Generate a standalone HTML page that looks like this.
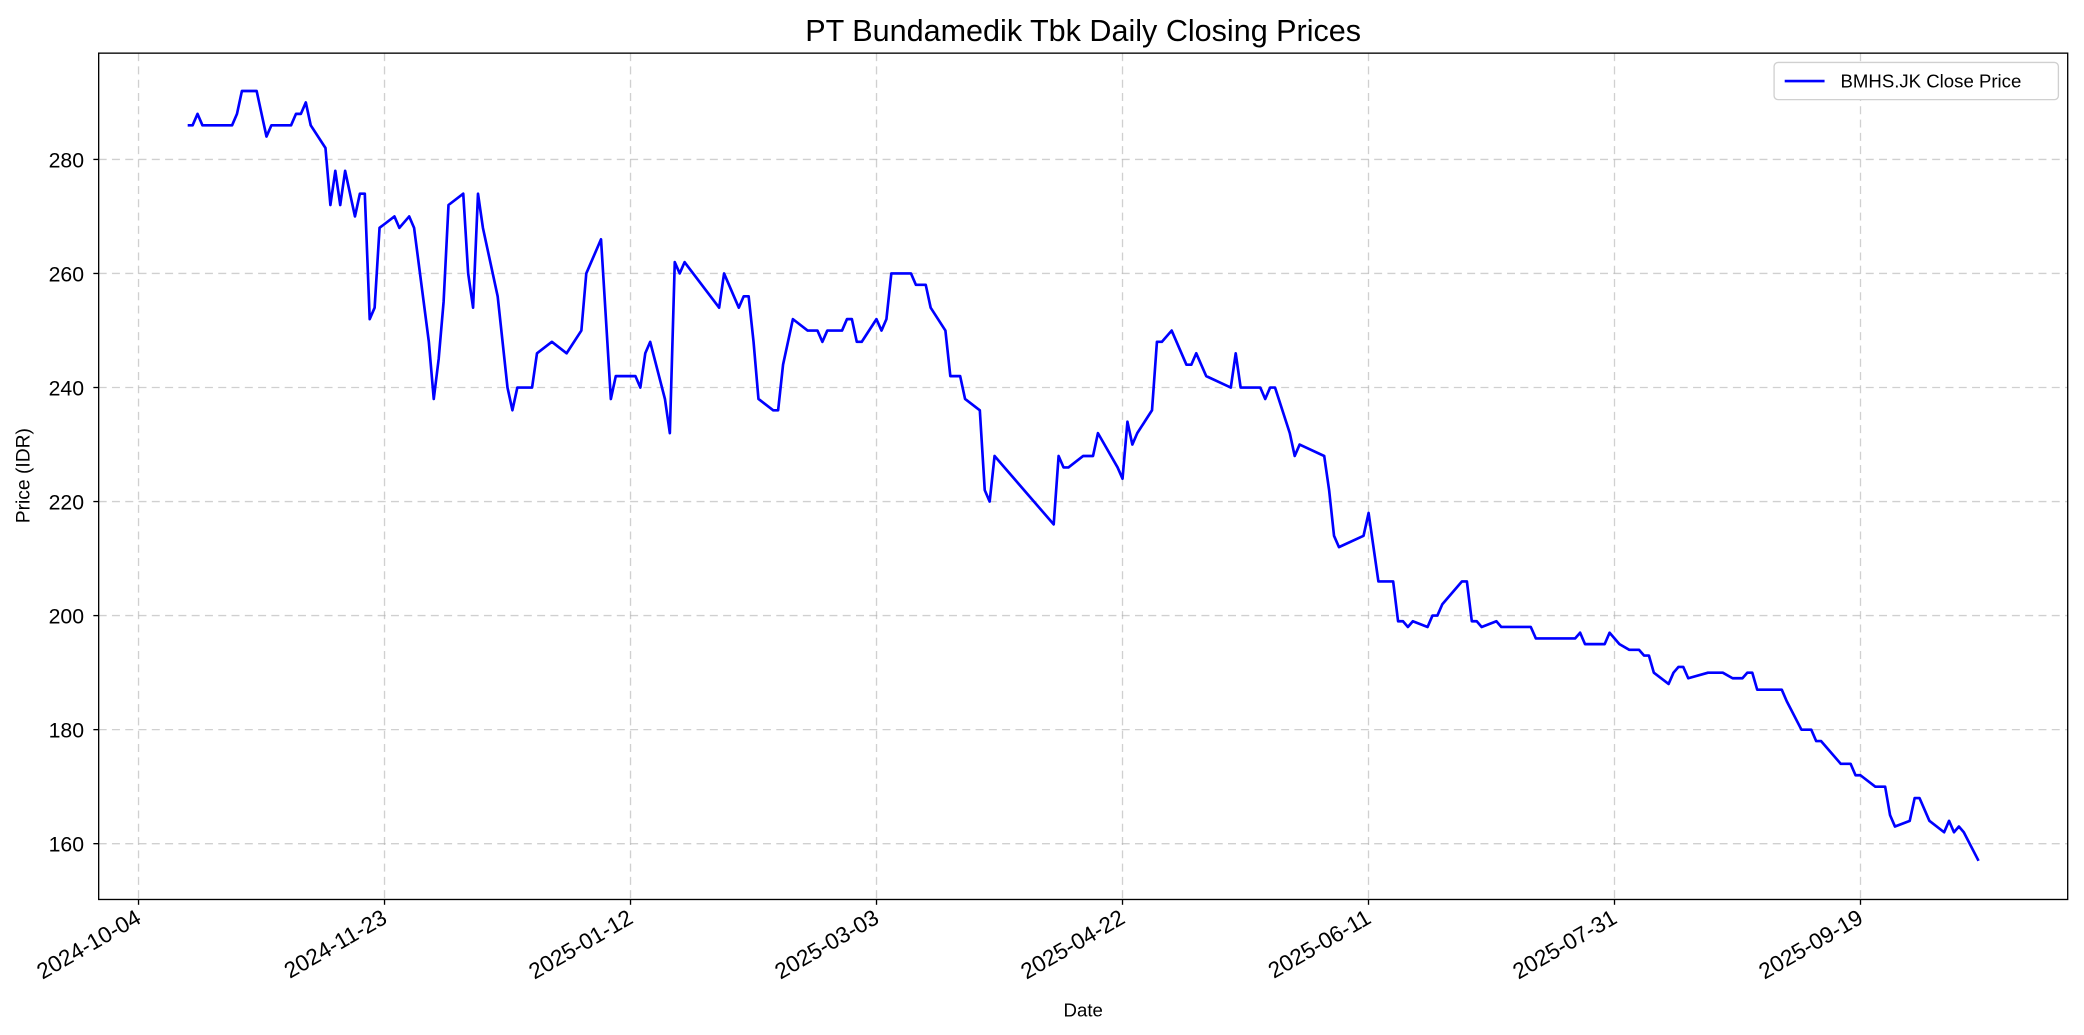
<!DOCTYPE html>
<html><head><meta charset="utf-8"><style>
html,body{margin:0;padding:0;background:#fff;}
svg{display:block;font-family:"Liberation Sans","DejaVu Sans",sans-serif;}
</style></head><body>
<svg id="chart" width="2084" height="1035" viewBox="0 0 1568 779" xmlns="http://www.w3.org/2000/svg">
<rect width="1568" height="779" fill="#fff"/>
<text x="815" y="31" font-size="23" text-anchor="middle" fill="#000">PT Bundamedik Tbk Daily Closing Prices</text>
<g id="grid"></g>
<g id="xaxis"></g>
<g id="yaxis"></g>
<path id="line" fill="none" stroke="#0000ff" stroke-width="2" stroke-linejoin="round"/>
<rect x="74" y="40" width="1482" height="637" fill="none" stroke="#000" stroke-width="1"/>
<text x="815" y="765" font-size="14" text-anchor="middle">Date</text>
<text x="0" y="0" font-size="14.5" text-anchor="middle" transform="translate(22,358) rotate(-90)">Price (IDR)</text>
<g>
<rect x="1335" y="47" width="214" height="28" rx="3" fill="#fff" stroke="#d0d0d0" stroke-width="1"/>
<line x1="1343" y1="61" x2="1373" y2="61" stroke="#0000ff" stroke-width="2"/>
<text x="1385" y="66" font-size="14">BMHS.JK Close Price</text>
</g>
</svg>
<script>
// days since 2024-10-04
const days = [10,11,12,13,19,20,21,24,26,27,31,32,33,34,35,38,39,40,41,42,44,45,46,47,48,49,52,53,55,56,59,60,61,62,63,66,67,68,69,70,73,75,76,77,80,81,84,87,90,91,94,96,97,101,102,103,104,107,108,109,110,111,118,119,122,123,124,125,126,129,130,131,133,136,138,139,140,143,144,145,146,147,150,151,152,153,157,158,160,161,164,165,167,168,171,172,173,174,186,187,188,189,192,194,195,199,200,201,202,203,206,207,208,210,213,214,215,217,222,223,224,228,229,230,231,234,235,236,241,242,243,244,249,250,252,255,256,257,258,259,262,263,264,265,269,270,271,272,273,276,277,283,284,292,293,294,298,299,301,303,305,306,307,308,311,312,313,314,315,319,322,324,326,327,328,329,334,335,338,340,341,342,346,348,349,350,353,355,356,357,360,361,362,364,367,368,369,370,371,374];
const prices = [286,286,288,286,286,288,292,292,284,286,286,288,288,290,286,282,272,278,272,278,270,274,274,252,254,268,270,268,270,268,248,238,245,255,272,274,260,254,274,268,256,240,236,240,240,246,248,246,250,260,266,238,242,242,240,246,248,238,232,262,260,262,254,260,254,256,256,248,238,236,236,244,252,250,250,248,250,250,252,252,248,248,252,250,252,260,260,258,258,254,250,242,242,238,236,222,220,228,216,228,226,226,228,228,232,226,224,234,230,232,236,248,248,250,244,244,246,242,240,246,240,240,238,240,240,232,228,230,228,222,214,212,214,218,206,206,199,199,198,199,198,200,200,202,206,206,199,199,198,199,198,198,196,196,197,195,195,197,195,194,194,193,193,190,188,190,191,191,189,190,190,189,189,190,190,187,187,185,180,180,178,178,174,174,172,172,170,170,165,163,164,168,168,164,162,164,162,163,162,157];
const yTicks = [160,180,200,220,240,260,280];
const xTickLabels = ["2024-10-04","2024-11-23","2025-01-12","2025-03-03","2025-04-22","2025-06-11","2025-07-31","2025-09-19"];
const xTickDays = [0,50,100,150,200,250,300,350];

const NS="http://www.w3.org/2000/svg";
const xs = d => 104 + d*3.703;
const ys = v => 120 + (280 - v)*(515/120);
function mk(tag, attrs, parent){const e=document.createElementNS(NS,tag);for(const k in attrs)e.setAttribute(k,attrs[k]);parent.appendChild(e);return e;}
const grid=document.getElementById('grid'), xa=document.getElementById('xaxis'), ya=document.getElementById('yaxis');
yTicks.forEach(v=>{
  const y=ys(v);
  const g=mk('line',{x1:74,x2:1556,y1:y,y2:y,stroke:'#b0b0b0','stroke-opacity':0.6,'stroke-dasharray':'6,4','stroke-width':1},grid);
  
  
  mk('line',{x1:70,x2:74,y1:y,y2:y,stroke:'#000','stroke-width':1},ya);
  const t=mk('text',{x:63,y:y+6,'font-size':16,'text-anchor':'end'},ya);
  t.textContent=v;
  
  
});
xTickDays.forEach((d,i)=>{
  const x=xs(d);
  const g=mk('line',{x1:x,x2:x,y1:40,y2:677,stroke:'#b0b0b0','stroke-opacity':0.6,'stroke-dasharray':'6,4','stroke-width':1},grid);
  
  
  mk('line',{x1:x,x2:x,y1:677,y2:681,stroke:'#000','stroke-width':1},xa);
  const t=mk('text',{x:0,y:0,'font-size':17,'text-anchor':'end',transform:`translate(${x+3},${694}) rotate(-30)`},xa);
  t.textContent=xTickLabels[i];
  
  
});
let dstr='';
days.forEach((d,i)=>{dstr+=(i?'L':'M')+xs(d).toFixed(1)+','+ys(prices[i]).toFixed(1);});
document.getElementById('line').setAttribute('d',dstr);
</script>
</body></html>
